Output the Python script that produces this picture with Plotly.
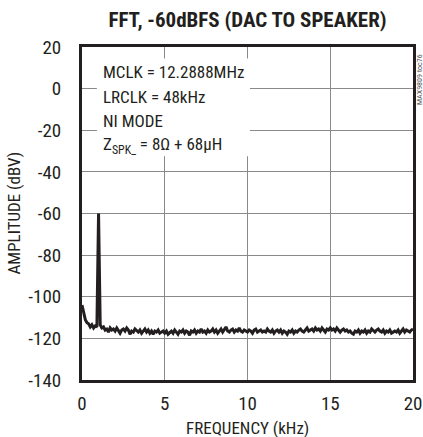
import plotly.graph_objects as go

# FFT of -60dBFS tone, DAC to speaker path
freq_khz = [
  0.0, 0.1, 0.2, 0.3, 0.4, 0.5, 0.6, 0.7, 0.8, 0.9,
  1.0, 1.1, 1.2, 1.3, 1.4, 1.5, 1.6, 1.7, 1.8, 1.9,
  2.0, 2.1, 2.2, 2.3, 2.4, 2.5, 2.6, 2.7, 2.8, 2.9,
  3.0, 3.1, 3.2, 3.3, 3.4, 3.5, 3.6, 3.7, 3.8, 3.9,
  4.0, 4.1, 4.2, 4.3, 4.4, 4.5, 4.6, 4.7, 4.8, 4.9,
  5.0, 5.1, 5.2, 5.3, 5.4, 5.5, 5.6, 5.7, 5.8, 5.9,
  6.0, 6.1, 6.2, 6.3, 6.4, 6.5, 6.6, 6.7, 6.8, 6.9,
  7.0, 7.1, 7.2, 7.3, 7.4, 7.5, 7.6, 7.7, 7.8, 7.9,
  8.0, 8.1, 8.2, 8.3, 8.4, 8.5, 8.6, 8.7, 8.8, 8.9,
  9.0, 9.1, 9.2, 9.3, 9.4, 9.5, 9.6, 9.7, 9.8, 9.9,
  10.0, 10.1, 10.2, 10.3, 10.4, 10.5, 10.6, 10.7, 10.8, 10.9,
  11.0, 11.1, 11.2, 11.3, 11.4, 11.5, 11.6, 11.7, 11.8, 11.9,
  12.0, 12.1, 12.2, 12.3, 12.4, 12.5, 12.6, 12.7, 12.8, 12.9,
  13.0, 13.1, 13.2, 13.3, 13.4, 13.5, 13.6, 13.7, 13.8, 13.9,
  14.0, 14.1, 14.2, 14.3, 14.4, 14.5, 14.6, 14.7, 14.8, 14.9,
  15.0, 15.1, 15.2, 15.3, 15.4, 15.5, 15.6, 15.7, 15.8, 15.9,
  16.0, 16.1, 16.2, 16.3, 16.4, 16.5, 16.6, 16.7, 16.8, 16.9,
  17.0, 17.1, 17.2, 17.3, 17.4, 17.5, 17.6, 17.7, 17.8, 17.9,
  18.0, 18.1, 18.2, 18.3, 18.4, 18.5, 18.6, 18.7, 18.8, 18.9,
  19.0, 19.1, 19.2, 19.3, 19.4, 19.5, 19.6, 19.7, 19.8, 19.9,
  20.0]

amplitude_dbv = [
  -104, -108, -111, -112.5, -113, -114.5, -113.5, -115, -114, -114.5,
  -60, -113.5, -115, -114.5, -116, -115.5, -117, -115, -116, -115.5,
  -116.5, -115, -116, -117.5, -116, -115.5, -116.5, -115, -116, -118,
  -116.5, -117, -115.5, -116.5, -117, -116, -117.5, -116.5, -115.5, -117,
  -116, -117.5, -116.5, -118, -116.5, -117, -116, -117.5, -117, -116.5,
  -117.5, -116.5, -118, -117, -116.5, -117.5, -116, -117, -118, -116.5,
  -117, -116, -117.5, -116.5, -117, -118.5, -116.5, -117, -116, -117.5,
  -116.5, -117, -115.5, -117, -116.5, -117.5, -116, -117, -116.5, -115.5,
  -117, -116, -117.5, -116.5, -115.5, -117, -116, -114.5, -116.5, -117,
  -116, -115.5, -117, -116, -116.5, -115, -116.5, -117, -116, -116.5,
  -117, -116, -116.5, -117.5, -116, -115.5, -117, -116.5, -116, -117,
  -116.5, -117, -115.5, -116.5, -117, -116, -117.5, -116.5, -116, -117,
  -116, -117.5, -116.5, -117, -118, -116.5, -117, -116, -117.5, -116.5,
  -117, -116, -115.5, -116.5, -117, -116, -115, -116.5, -116, -115.5,
  -116.5, -115, -116, -115.5, -116.5, -115, -116, -117, -115.5, -116,
  -115, -116, -115.5, -116.5, -115, -116, -117, -116, -115.5, -116.5,
  -116, -117, -116.5, -117.5, -118, -116.5, -117, -116, -117.5, -116.5,
  -117, -116, -117.5, -116.5, -117, -115.5, -116.5, -117, -116, -115.5,
  -116.5, -117, -116, -117.5, -116.5, -117, -116, -117.5, -117, -116.5,
  -117, -116, -117.5, -116.5, -115.5, -117, -116, -116.5, -117, -116,
  -115.5]

x_ticks = [0, 5, 10, 15, 20]
x_tick_text = ["0", "5", "10", "15", "20"]
y_ticks = [20, 0, -20, -40, -60, -80, -100, -120, -140]
y_tick_text = ["20", "0", "-20", "-40", "-60", "-80", "-100", "-120", "-140"]

note_lines = ["MCLK = 12.2888MHz", "LRCLK = 48kHz", "NI MODE", "Z<sub>SPK_</sub> = 8\u03a9 + 68\u00b5H"]

FONT = "Roboto Condensed, Liberation Sans Narrow, sans-serif"
INK = "#231f20"
GRID = "#8a8a8a"

W, H = 423, 437
L, T = 82, 47
PW, PH = 331, 333

fig = go.Figure()
fig.add_trace(go.Scatter(x=freq_khz, y=amplitude_dbv, mode="lines",
    line=dict(color=INK, width=3), showlegend=False, hoverinfo="skip"))

fig.update_layout(
    width=W, height=H,
    margin=dict(l=L, r=W - L - PW, t=T, b=H - T - PH, autoexpand=False),
    paper_bgcolor="white", plot_bgcolor="white",
    font=dict(family=FONT, size=19, color=INK),
    title=dict(text="<b>FFT, -60dBFS (DAC TO SPEAKER)</b>", x=247.5 / W, xanchor="center",
        y=1 - 20 / H, yanchor="middle", font=dict(family=FONT, size=21, color=INK)),
)

fig.update_xaxes(range=[0, 20], tickvals=x_ticks, ticktext=x_tick_text,
    showgrid=True, gridcolor=GRID, gridwidth=1, zeroline=False,
    showline=True, mirror=True, linecolor=INK, linewidth=3, ticks="",
    ticklabelstandoff=4, automargin=False)
fig.update_yaxes(range=[-140, 20], tickvals=y_ticks, ticktext=y_tick_text,
    showgrid=True, gridcolor=GRID, gridwidth=1, zeroline=False,
    showline=True, mirror=True, linecolor=INK, linewidth=3, ticks="",
    ticklabelstandoff=14, automargin=False)

# axis titles
fig.add_annotation(text="FREQUENCY (kHz)", xref="paper", yref="paper", x=0.5, y=-48 / PH,
    xanchor="center", yanchor="middle", showarrow=False, font=dict(family=FONT, size=17, color=INK))
fig.add_annotation(text="AMPLITUDE (dBV)", xref="paper", yref="paper", x=(13 - L) / PW, y=0.5,
    xanchor="center", yanchor="middle", textangle=-90, showarrow=False,
    font=dict(family=FONT, size=17, color=INK))

# white backdrop behind the conditions text (breaks the grid like the original)
fig.add_shape(type="rect", xref="x", yref="y", x0=0.9, x1=10.15, y0=-32.5, y1=14.5,
    fillcolor="white", line=dict(width=0), layer="above")

for i, line in enumerate(note_lines):
  fig.add_annotation(text=line, xref="paper", yref="paper", x=19 / PW,
      y=1 - (25 + i * 24.5) / PH, xanchor="left", yanchor="middle", showarrow=False,
      font=dict(family=FONT, size=17, color=INK))

fig.add_annotation(text="MAX9809 toc76", xref="paper", yref="paper", x=1.0 + 6 / PW, y=1 - 33 / PH,
    xanchor="center", yanchor="middle", textangle=-90, showarrow=False,
    font=dict(family=FONT, size=8, color="#555"))

# drop the default 8px page margin so the figure fills the window exactly
fig.write_html("out.html", config={"displayModeBar": False},
    post_script="document.body.style.margin='0px';")
